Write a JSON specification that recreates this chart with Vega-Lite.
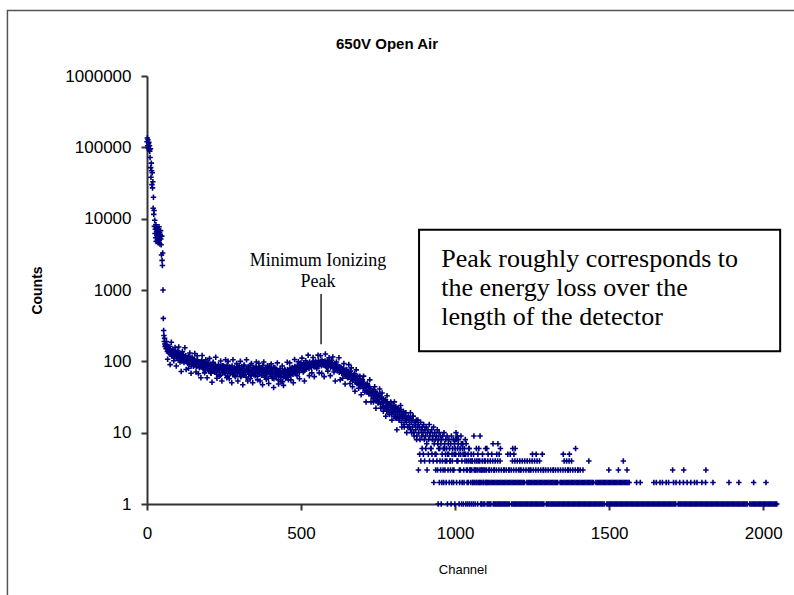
{
"$schema":"https://vega.github.io/schema/vega-lite/v6.json",
"width":631,"height":428,
"autosize":{"type":"none"},
"padding":{"left":147,"top":76,"right":16,"bottom":91},
"background":"white",
"config":{"view":{"stroke":null},"font":"Liberation Sans",
"axis":{"domainColor":"#333333","domainWidth":2,"tickColor":"#333333","tickWidth":2,"tickSize":6,"grid":false,"labelFont":"Liberation Sans","labelFontSize":17,"labelColor":"black","titleFont":"Liberation Sans","titleColor":"black","labelFlush":false},
"axisX":{"labelPadding":15,"titleFontSize":13,"titleFontWeight":"normal","titlePadding":22},
"axisY":{"labelPadding":10,"titleFontSize":14,"titleFontWeight":"bold","titlePadding":20}},
"layer":[
{"data":{"values":[{"x1":-453,"x2":2400,"y1":8300000,"y2":0.04}]},
"mark":{"type":"rect","fill":null,"fillOpacity":0,"stroke":"#555555","strokeWidth":1.5},
"encoding":{"x":{"field":"x1","type":"quantitative","title":"Channel","scale":{"domain":[0,2048],"nice":false,"zero":false}},"x2":{"field":"x2"},
"y":{"field":"y1","type":"quantitative","title":"Counts","scale":{"type":"log","domain":[1,1000000],"nice":false}},"y2":{"field":"y2"}}},
{"data":{"values":[{"channel":779,"counts":2810000,"label":"650V Open Air"}]},
"mark":{"type":"text","font":"Liberation Sans","fontSize":15,"fontWeight":"bold","align":"center","baseline":"middle","color":"black"},
"encoding":{"x":{"field":"channel","type":"quantitative","title":"Channel","scale":{"domain":[0,2048],"nice":false,"zero":false}},
"y":{"field":"counts","type":"quantitative","title":"Counts","scale":{"type":"log","domain":[1,1000000],"nice":false}},"text":{"field":"label"}}},
{"data":{"values":[
{"channel":0,"counts":120000},{"channel":1,"counts":135000},{"channel":2,"counts":105000},{"channel":3,"counts":128000},{"channel":4,"counts":98000},{"channel":5,"counts":112000},{"channel":6,"counts":118000},{"channel":7,"counts":92000},{"channel":8,"counts":105000},{"channel":9,"counts":88000},{"channel":10,"counts":72000},{"channel":11,"counts":95000},{"channel":12,"counts":52000},{"channel":13,"counts":38000},{"channel":14,"counts":60000},{"channel":15,"counts":47000},{"channel":16,"counts":30000},{"channel":17,"counts":44000},{"channel":18,"counts":27000},{"channel":19,"counts":33000},{"channel":20,"counts":14000},{"channel":21,"counts":20000},{"channel":22,"counts":11500},{"channel":23,"counts":13000},{"channel":24,"counts":7800},{"channel":25,"counts":9500},{"channel":26,"counts":6200},{"channel":27,"counts":7100},{"channel":28,"counts":5400},{"channel":29,"counts":8200},{"channel":30,"counts":4800},{"channel":31,"counts":6600},{"channel":32,"counts":5800},{"channel":33,"counts":7400},{"channel":34,"counts":5100},{"channel":35,"counts":6900},{"channel":36,"counts":4600},{"channel":37,"counts":6100},{"channel":38,"counts":5500},{"channel":39,"counts":7700},{"channel":40,"counts":5000},{"channel":41,"counts":6400},{"channel":42,"counts":4400},{"channel":43,"counts":5900},{"channel":44,"counts":6800},{"channel":45,"counts":5200},{"channel":46,"counts":4300},{"channel":47,"counts":3100},{"channel":48,"counts":5700},{"channel":49,"counts":2600},{"channel":50,"counts":2200},{"channel":51,"counts":3300},{"channel":52,"counts":1000},{"channel":53,"counts":400},{"channel":54,"counts":270},{"channel":55,"counts":230},{"channel":56,"counts":190},{"channel":57,"counts":210},{"channel":58,"counts":175},{"channel":59,"counts":160},{"channel":60,"counts":168},
{"channel":62,"counts":150},{"channel":64,"counts":172},{"channel":66,"counts":138},{"channel":68,"counts":155},{"channel":70,"counts":131},{"channel":72,"counts":148},{"channel":74,"counts":162},{"channel":76,"counts":126},{"channel":78,"counts":140},{"channel":80,"counts":119},{"channel":82,"counts":137},{"channel":84,"counts":146},{"channel":86,"counts":122},{"channel":88,"counts":131},{"channel":90,"counts":115},{"channel":92,"counts":139},{"channel":94,"counts":124},{"channel":96,"counts":110},{"channel":98,"counts":133},{"channel":100,"counts":118},
{"channel":102,"counts":127},{"channel":104,"counts":104},{"channel":106,"counts":121},{"channel":108,"counts":113},{"channel":110,"counts":130},{"channel":112,"counts":101},{"channel":114,"counts":118},{"channel":116,"counts":109},{"channel":118,"counts":124},{"channel":120,"counts":96},{"channel":122,"counts":115},{"channel":124,"counts":107},{"channel":126,"counts":120},{"channel":128,"counts":99},{"channel":130,"counts":112},{"channel":132,"counts":94},{"channel":134,"counts":118},{"channel":136,"counts":103},{"channel":138,"counts":91},{"channel":140,"counts":110},{"channel":142,"counts":99},{"channel":144,"counts":86},{"channel":146,"counts":114},{"channel":148,"counts":97},{"channel":150,"counts":104},{"channel":152,"counts":88},{"channel":154,"counts":107},{"channel":156,"counts":93},{"channel":158,"counts":101},{"channel":160,"counts":84},{"channel":162,"counts":98},{"channel":164,"counts":105},{"channel":166,"counts":89},{"channel":168,"counts":96},{"channel":170,"counts":81},{"channel":172,"counts":99},{"channel":174,"counts":92},{"channel":176,"counts":85},{"channel":178,"counts":103},{"channel":180,"counts":88},
{"channel":182,"counts":79},{"channel":184,"counts":94},{"channel":186,"counts":86},{"channel":188,"counts":98},{"channel":190,"counts":76},{"channel":192,"counts":90},{"channel":194,"counts":83},{"channel":196,"counts":95},{"channel":198,"counts":78},{"channel":200,"counts":87},
{"channel":202,"counts":72},{"channel":204,"counts":91},{"channel":206,"counts":80},{"channel":208,"counts":68},{"channel":210,"counts":86},{"channel":212,"counts":77},{"channel":214,"counts":93},{"channel":216,"counts":74},{"channel":218,"counts":82},{"channel":220,"counts":70},{"channel":222,"counts":88},{"channel":224,"counts":79},{"channel":226,"counts":66},{"channel":228,"counts":84},{"channel":230,"counts":75},{"channel":232,"counts":90},{"channel":234,"counts":71},{"channel":236,"counts":80},{"channel":238,"counts":64},{"channel":240,"counts":83},{"channel":242,"counts":76},{"channel":244,"counts":87},{"channel":246,"counts":69},{"channel":248,"counts":78},{"channel":250,"counts":73},
{"channel":252,"counts":85},{"channel":254,"counts":67},{"channel":256,"counts":79},{"channel":258,"counts":74},{"channel":260,"counts":88},{"channel":262,"counts":62},{"channel":264,"counts":77},{"channel":266,"counts":71},{"channel":268,"counts":83},{"channel":270,"counts":68},{"channel":272,"counts":80},{"channel":274,"counts":73},{"channel":276,"counts":86},{"channel":278,"counts":65},{"channel":280,"counts":76},{"channel":282,"counts":70},{"channel":284,"counts":82},{"channel":286,"counts":63},{"channel":288,"counts":78},{"channel":290,"counts":72},{"channel":292,"counts":84},{"channel":294,"counts":67},{"channel":296,"counts":75},{"channel":298,"counts":80},{"channel":300,"counts":69},
{"channel":302,"counts":77},{"channel":304,"counts":61},{"channel":306,"counts":74},{"channel":308,"counts":83},{"channel":310,"counts":70},{"channel":312,"counts":78},{"channel":314,"counts":64},{"channel":316,"counts":86},{"channel":318,"counts":72},{"channel":320,"counts":75},{"channel":322,"counts":60},{"channel":324,"counts":79},{"channel":326,"counts":71},{"channel":328,"counts":84},{"channel":330,"counts":66},{"channel":332,"counts":76},{"channel":334,"counts":73},{"channel":336,"counts":88},{"channel":338,"counts":63},{"channel":340,"counts":77},{"channel":342,"counts":70},{"channel":344,"counts":81},{"channel":346,"counts":65},{"channel":348,"counts":74},{"channel":350,"counts":79},
{"channel":352,"counts":68},{"channel":354,"counts":85},{"channel":356,"counts":72},{"channel":358,"counts":62},{"channel":360,"counts":78},{"channel":362,"counts":71},{"channel":364,"counts":83},{"channel":366,"counts":66},{"channel":368,"counts":75},{"channel":370,"counts":80},{"channel":372,"counts":64},{"channel":374,"counts":73},{"channel":376,"counts":87},{"channel":378,"counts":69},{"channel":380,"counts":76},{"channel":382,"counts":60},{"channel":384,"counts":74},{"channel":386,"counts":81},{"channel":388,"counts":67},{"channel":390,"counts":72},{"channel":392,"counts":78},{"channel":394,"counts":58},{"channel":396,"counts":70},{"channel":398,"counts":84},{"channel":400,"counts":66},
{"channel":402,"counts":73},{"channel":404,"counts":62},{"channel":406,"counts":77},{"channel":408,"counts":69},{"channel":410,"counts":81},{"channel":412,"counts":57},{"channel":414,"counts":71},{"channel":416,"counts":65},{"channel":418,"counts":78},{"channel":420,"counts":61},{"channel":422,"counts":74},{"channel":424,"counts":68},{"channel":426,"counts":55},{"channel":428,"counts":72},{"channel":430,"counts":64},{"channel":432,"counts":79},{"channel":434,"counts":59},{"channel":436,"counts":70},{"channel":438,"counts":66},{"channel":440,"counts":52},{"channel":442,"counts":73},{"channel":444,"counts":61},{"channel":446,"counts":68},{"channel":448,"counts":75},{"channel":450,"counts":58},
{"channel":452,"counts":70},{"channel":454,"counts":64},{"channel":456,"counts":77},{"channel":458,"counts":60},{"channel":460,"counts":72},{"channel":462,"counts":67},{"channel":464,"counts":80},{"channel":466,"counts":63},{"channel":468,"counts":74},{"channel":470,"counts":69},{"channel":472,"counts":82},{"channel":474,"counts":66},{"channel":476,"counts":76},{"channel":478,"counts":71},{"channel":480,"counts":85},{"channel":482,"counts":68},{"channel":484,"counts":78},{"channel":486,"counts":73},{"channel":488,"counts":88},{"channel":490,"counts":75},{"channel":492,"counts":81},{"channel":494,"counts":70},{"channel":496,"counts":86},{"channel":498,"counts":79},{"channel":500,"counts":91},
{"channel":502,"counts":76},{"channel":504,"counts":84},{"channel":506,"counts":80},{"channel":508,"counts":93},{"channel":510,"counts":74},{"channel":512,"counts":87},{"channel":514,"counts":82},{"channel":516,"counts":96},{"channel":518,"counts":78},{"channel":520,"counts":89},{"channel":522,"counts":84},{"channel":524,"counts":92},{"channel":526,"counts":79},{"channel":528,"counts":98},{"channel":530,"counts":86},{"channel":532,"counts":90},{"channel":534,"counts":82},{"channel":536,"counts":95},{"channel":538,"counts":88},{"channel":540,"counts":100},{"channel":542,"counts":84},{"channel":544,"counts":93},{"channel":546,"counts":89},{"channel":548,"counts":97},{"channel":550,"counts":85},
{"channel":552,"counts":94},{"channel":554,"counts":88},{"channel":556,"counts":102},{"channel":558,"counts":86},{"channel":560,"counts":96},{"channel":562,"counts":91},{"channel":564,"counts":99},{"channel":566,"counts":87},{"channel":568,"counts":104},{"channel":570,"counts":93},{"channel":572,"counts":89},{"channel":574,"counts":98},{"channel":576,"counts":92},{"channel":578,"counts":101},{"channel":580,"counts":86},{"channel":582,"counts":95},{"channel":584,"counts":90},{"channel":586,"counts":103},{"channel":588,"counts":84},{"channel":590,"counts":94},{"channel":592,"counts":88},{"channel":594,"counts":97},{"channel":596,"counts":82},{"channel":598,"counts":91},{"channel":600,"counts":86},
{"channel":602,"counts":95},{"channel":604,"counts":80},{"channel":606,"counts":89},{"channel":608,"counts":84},{"channel":610,"counts":93},{"channel":612,"counts":77},{"channel":614,"counts":87},{"channel":616,"counts":82},{"channel":618,"counts":74},{"channel":620,"counts":86},{"channel":622,"counts":79},{"channel":624,"counts":70},{"channel":626,"counts":84},{"channel":628,"counts":75},{"channel":630,"counts":81},{"channel":632,"counts":68},{"channel":634,"counts":77},{"channel":636,"counts":72},{"channel":638,"counts":80},{"channel":640,"counts":65},{"channel":642,"counts":74},{"channel":644,"counts":69},{"channel":646,"counts":62},{"channel":648,"counts":76},{"channel":650,"counts":66},
{"channel":652,"counts":71},{"channel":654,"counts":60},{"channel":656,"counts":68},{"channel":658,"counts":63},{"channel":660,"counts":73},{"channel":662,"counts":56},{"channel":664,"counts":66},{"channel":666,"counts":61},{"channel":668,"counts":54},{"channel":670,"counts":64},{"channel":672,"counts":58},{"channel":674,"counts":67},{"channel":676,"counts":51},{"channel":678,"counts":60},{"channel":680,"counts":55},{"channel":682,"counts":49},{"channel":684,"counts":62},{"channel":686,"counts":53},{"channel":688,"counts":47},{"channel":690,"counts":57},{"channel":692,"counts":50},{"channel":694,"counts":44},{"channel":696,"counts":54},{"channel":698,"counts":48},{"channel":700,"counts":52},
{"channel":702,"counts":42},{"channel":704,"counts":49},{"channel":706,"counts":45},{"channel":708,"counts":39},{"channel":710,"counts":47},{"channel":712,"counts":43},{"channel":714,"counts":37},{"channel":716,"counts":46},{"channel":718,"counts":40},{"channel":720,"counts":35},{"channel":722,"counts":44},{"channel":724,"counts":38},{"channel":726,"counts":41},{"channel":728,"counts":33},{"channel":730,"counts":39},{"channel":732,"counts":36},{"channel":734,"counts":30},{"channel":736,"counts":40},{"channel":738,"counts":34},{"channel":740,"counts":31},{"channel":742,"counts":37},{"channel":744,"counts":28},{"channel":746,"counts":35},{"channel":748,"counts":32},{"channel":750,"counts":26},
{"channel":752,"counts":33},{"channel":754,"counts":29},{"channel":756,"counts":35},{"channel":758,"counts":25},{"channel":760,"counts":31},{"channel":762,"counts":27},{"channel":764,"counts":23},{"channel":766,"counts":30},{"channel":768,"counts":26},{"channel":770,"counts":28},{"channel":772,"counts":22},{"channel":774,"counts":29},{"channel":776,"counts":24},{"channel":778,"counts":20},{"channel":780,"counts":27},{"channel":782,"counts":23},{"channel":784,"counts":25},{"channel":786,"counts":19},{"channel":788,"counts":24},{"channel":790,"counts":21},{"channel":792,"counts":26},{"channel":794,"counts":18},{"channel":796,"counts":22},{"channel":798,"counts":20},{"channel":800,"counts":24},
{"channel":802,"counts":17},{"channel":804,"counts":21},{"channel":806,"counts":19},{"channel":808,"counts":23},{"channel":810,"counts":16},{"channel":812,"counts":20},{"channel":814,"counts":18},{"channel":816,"counts":22},{"channel":818,"counts":15},{"channel":820,"counts":19},{"channel":822,"counts":17},{"channel":824,"counts":21},{"channel":826,"counts":14},{"channel":828,"counts":18},{"channel":830,"counts":16},{"channel":832,"counts":20},{"channel":834,"counts":13},{"channel":836,"counts":17},{"channel":838,"counts":15},{"channel":840,"counts":19},{"channel":842,"counts":14},{"channel":844,"counts":16},{"channel":846,"counts":12},{"channel":848,"counts":17},{"channel":850,"counts":15},
{"channel":852,"counts":13},{"channel":854,"counts":16},{"channel":856,"counts":11},{"channel":858,"counts":14},{"channel":860,"counts":15},{"channel":862,"counts":12},{"channel":864,"counts":17},{"channel":866,"counts":10},{"channel":868,"counts":13},{"channel":870,"counts":14},{"channel":872,"counts":11},{"channel":874,"counts":15},{"channel":876,"counts":9},{"channel":878,"counts":12},{"channel":880,"counts":13},{"channel":882,"counts":10},{"channel":884,"counts":12},{"channel":886,"counts":8},{"channel":888,"counts":14},{"channel":890,"counts":11},{"channel":892,"counts":9},{"channel":894,"counts":12},{"channel":896,"counts":10},{"channel":898,"counts":13},{"channel":900,"counts":8},
{"channel":902,"counts":11},{"channel":904,"counts":9},{"channel":906,"counts":12},{"channel":908,"counts":7},{"channel":910,"counts":10},{"channel":912,"counts":11},{"channel":914,"counts":8},{"channel":916,"counts":13},{"channel":918,"counts":9},{"channel":920,"counts":10},{"channel":922,"counts":6},{"channel":924,"counts":11},{"channel":926,"counts":8},{"channel":928,"counts":9},{"channel":930,"counts":12},{"channel":932,"counts":7},{"channel":934,"counts":10},{"channel":936,"counts":8},{"channel":938,"counts":5},{"channel":940,"counts":9},{"channel":942,"counts":11},{"channel":944,"counts":7},{"channel":946,"counts":8},{"channel":948,"counts":10},{"channel":950,"counts":6},
{"channel":952,"counts":9},{"channel":954,"counts":7},{"channel":956,"counts":8},{"channel":958,"counts":5},{"channel":960,"counts":9},{"channel":962,"counts":6},{"channel":964,"counts":10},{"channel":966,"counts":7},{"channel":968,"counts":4},{"channel":970,"counts":8},{"channel":972,"counts":6},{"channel":974,"counts":9},{"channel":976,"counts":5},{"channel":978,"counts":7},{"channel":980,"counts":8},{"channel":982,"counts":6},{"channel":984,"counts":4},{"channel":986,"counts":7},{"channel":988,"counts":9},{"channel":990,"counts":5},{"channel":992,"counts":6},{"channel":994,"counts":8},{"channel":996,"counts":3},{"channel":998,"counts":7},{"channel":1000,"counts":6},
{"channel":1002,"counts":5},{"channel":1004,"counts":8},{"channel":1006,"counts":4},{"channel":1008,"counts":6},{"channel":1010,"counts":7},{"channel":1012,"counts":5},{"channel":1014,"counts":3},{"channel":1016,"counts":6},{"channel":1018,"counts":5},{"channel":1020,"counts":7},{"channel":1022,"counts":4},{"channel":1024,"counts":6},{"channel":1026,"counts":5},{"channel":1028,"counts":3},{"channel":1030,"counts":6},{"channel":1032,"counts":4},{"channel":1034,"counts":5},{"channel":1036,"counts":7},{"channel":1038,"counts":4},{"channel":1040,"counts":3},{"channel":1042,"counts":5},{"channel":1044,"counts":4},{"channel":1046,"counts":6},{"channel":1048,"counts":3},{"channel":1050,"counts":4},
{"channel":1052,"counts":5},{"channel":1054,"counts":3},{"channel":1056,"counts":4},{"channel":1058,"counts":2},{"channel":1060,"counts":5},{"channel":1062,"counts":3},{"channel":1064,"counts":4},{"channel":1066,"counts":3},{"channel":1068,"counts":2},{"channel":1070,"counts":4},{"channel":1072,"counts":3},{"channel":1074,"counts":5},{"channel":1076,"counts":2},{"channel":1078,"counts":3},{"channel":1080,"counts":4},{"channel":1082,"counts":2},{"channel":1084,"counts":3},{"channel":1086,"counts":1},{"channel":1088,"counts":4},{"channel":1090,"counts":3},{"channel":1092,"counts":2},{"channel":1094,"counts":3},{"channel":1096,"counts":1},{"channel":1098,"counts":4},{"channel":1100,"counts":2},
{"channel":63,"counts":190},{"channel":67,"counts":107},{"channel":71,"counts":151},{"channel":75,"counts":90},{"channel":79,"counts":185},{"channel":83,"counts":118},{"channel":87,"counts":102},{"channel":91,"counts":156},{"channel":95,"counts":86},{"channel":99,"counts":140},{"channel":103,"counts":159},{"channel":107,"counts":98},{"channel":111,"counts":72},{"channel":115,"counts":136},{"channel":119,"counts":107},{"channel":123,"counts":155},{"channel":127,"counts":77},{"channel":131,"counts":109},{"channel":135,"counts":80},{"channel":139,"counts":131},{"channel":143,"counts":68},{"channel":147,"counts":110},{"channel":151,"counts":85},{"channel":155,"counts":129},{"channel":159,"counts":71},
{"channel":163,"counts":120},{"channel":167,"counts":67},{"channel":171,"counts":97},{"channel":175,"counts":59},{"channel":179,"counts":121},{"channel":183,"counts":78},{"channel":187,"counts":69},{"channel":191,"counts":105},{"channel":195,"counts":59},{"channel":199,"counts":96},{"channel":203,"counts":110},{"channel":207,"counts":69},{"channel":211,"counts":51},{"channel":215,"counts":97},{"channel":219,"counts":77},{"channel":223,"counts":114},{"channel":227,"counts":58},{"channel":231,"counts":82},{"channel":235,"counts":62},{"channel":239,"counts":101},{"channel":243,"counts":53},{"channel":247,"counts":87},{"channel":251,"counts":69},{"channel":255,"counts":105},{"channel":259,"counts":59},
{"channel":263,"counts":100},{"channel":267,"counts":57},{"channel":271,"counts":82},{"channel":275,"counts":50},{"channel":279,"counts":105},{"channel":283,"counts":68},{"channel":287,"counts":61},{"channel":291,"counts":93},{"channel":295,"counts":53},{"channel":299,"counts":87},{"channel":303,"counts":100},{"channel":307,"counts":63},{"channel":311,"counts":47},{"channel":315,"counts":89},{"channel":319,"counts":71},{"channel":323,"counts":105},{"channel":327,"counts":53},{"channel":331,"counts":76},{"channel":335,"counts":57},{"channel":339,"counts":93},{"channel":343,"counts":50},{"channel":347,"counts":82},{"channel":351,"counts":63},{"channel":355,"counts":98},{"channel":359,"counts":55},
{"channel":363,"counts":94},{"channel":367,"counts":53},{"channel":371,"counts":77},{"channel":375,"counts":47},{"channel":379,"counts":98},{"channel":383,"counts":63},{"channel":387,"counts":56},{"channel":391,"counts":87},{"channel":395,"counts":49},{"channel":399,"counts":80},{"channel":403,"counts":92},{"channel":407,"counts":58},{"channel":411,"counts":43},{"channel":415,"counts":82},{"channel":419,"counts":65},{"channel":423,"counts":95},{"channel":427,"counts":48},{"channel":431,"counts":70},{"channel":435,"counts":52},{"channel":439,"counts":86},{"channel":443,"counts":46},{"channel":447,"counts":77},{"channel":451,"counts":62},{"channel":455,"counts":97},{"channel":459,"counts":55},
{"channel":463,"counts":95},{"channel":467,"counts":55},{"channel":471,"counts":81},{"channel":475,"counts":50},{"channel":479,"counts":106},{"channel":483,"counts":70},{"channel":487,"counts":63},{"channel":491,"counts":99},{"channel":495,"counts":57},{"channel":499,"counts":95},{"channel":503,"counts":111},{"channel":507,"counts":71},{"channel":511,"counts":53},{"channel":515,"counts":102},{"channel":519,"counts":83},{"channel":523,"counts":122},{"channel":527,"counts":63},{"channel":531,"counts":90},{"channel":535,"counts":69},{"channel":539,"counts":113},{"channel":543,"counts":61},{"channel":547,"counts":100},{"channel":551,"counts":79},{"channel":555,"counts":122},{"channel":559,"counts":69},
{"channel":563,"counts":120},{"channel":567,"counts":68},{"channel":571,"counts":99},{"channel":575,"counts":61},{"channel":579,"counts":127},{"channel":583,"counts":82},{"channel":587,"counts":73},{"channel":591,"counts":112},{"channel":595,"counts":63},{"channel":599,"counts":103},{"channel":603,"counts":115},{"channel":607,"counts":71},{"channel":611,"counts":53},{"channel":615,"counts":98},{"channel":619,"counts":78},{"channel":623,"counts":112},{"channel":627,"counts":55},{"channel":631,"counts":79},{"channel":635,"counts":58},{"channel":639,"counts":93},{"channel":643,"counts":48},{"channel":647,"counts":77},{"channel":651,"counts":59},{"channel":655,"counts":90},{"channel":659,"counts":49},
{"channel":663,"counts":81},{"channel":667,"counts":44},{"channel":671,"counts":64},{"channel":675,"counts":38},{"channel":679,"counts":76},{"channel":683,"counts":49},{"channel":687,"counts":42},{"channel":691,"counts":62},{"channel":695,"counts":34},{"channel":699,"counts":55},{"channel":703,"counts":62},{"channel":707,"counts":37},{"channel":711,"counts":27},{"channel":715,"counts":49},{"channel":719,"counts":38},{"channel":723,"counts":55},{"channel":727,"counts":27},{"channel":731,"counts":37},{"channel":735,"counts":27},{"channel":739,"counts":44},{"channel":743,"counts":22},{"channel":747,"counts":36},{"channel":751,"counts":27},{"channel":755,"counts":41},{"channel":759,"counts":22},
{"channel":763,"counts":36},{"channel":767,"counts":20},{"channel":771,"counts":28},{"channel":775,"counts":17},{"channel":779,"counts":33},{"channel":783,"counts":21},{"channel":787,"counts":18},{"channel":791,"counts":27},{"channel":795,"counts":15},{"channel":799,"counts":23},{"channel":803,"counts":27},{"channel":807,"counts":16},{"channel":811,"counts":11},{"channel":815,"counts":22},{"channel":819,"counts":16},{"channel":823,"counts":24},{"channel":827,"counts":12},{"channel":831,"counts":17},{"channel":835,"counts":12},{"channel":839,"counts":19},{"channel":843,"counts":10},{"channel":847,"counts":16},{"channel":851,"counts":12},{"channel":855,"counts":19},{"channel":859,"counts":10},
{"channel":863,"counts":17},{"channel":867,"counts":9},{"channel":871,"counts":13},{"channel":875,"counts":8},{"channel":879,"counts":15},
{"channel":881,"counts":3},{"channel":885,"counts":5},{"channel":889,"counts":4},{"channel":893,"counts":6},{"channel":897,"counts":5},{"channel":901,"counts":4},{"channel":905,"counts":6},{"channel":909,"counts":3},{"channel":913,"counts":5},{"channel":917,"counts":4},{"channel":921,"counts":6},{"channel":925,"counts":5},{"channel":929,"counts":4},{"channel":931,"counts":2},{"channel":935,"counts":5},{"channel":937,"counts":3},{"channel":941,"counts":4},{"channel":943,"counts":3},{"channel":945,"counts":1},{"channel":947,"counts":6},{"channel":949,"counts":2},{"channel":951,"counts":4},{"channel":953,"counts":3},{"channel":955,"counts":1},{"channel":957,"counts":2},{"channel":959,"counts":4},{"channel":961,"counts":3},{"channel":963,"counts":2},{"channel":965,"counts":6},{"channel":967,"counts":3},{"channel":969,"counts":5},{"channel":971,"counts":2},{"channel":973,"counts":4},{"channel":975,"counts":1},{"channel":977,"counts":3},{"channel":979,"counts":5},{"channel":981,"counts":2},{"channel":983,"counts":4},{"channel":985,"counts":3},{"channel":987,"counts":1},{"channel":989,"counts":2},{"channel":991,"counts":4},{"channel":993,"counts":3},{"channel":995,"counts":2},{"channel":997,"counts":5},{"channel":999,"counts":1},
{"channel":1001,"counts":8},{"channel":1003,"counts":10},{"channel":1005,"counts":2},{"channel":1007,"counts":9},{"channel":1009,"counts":4},{"channel":1011,"counts":8},{"channel":1013,"counts":1},{"channel":1015,"counts":2},{"channel":1017,"counts":3},{"channel":1019,"counts":9},{"channel":1021,"counts":1},{"channel":1023,"counts":2},{"channel":1025,"counts":7},{"channel":1027,"counts":1},{"channel":1029,"counts":2},{"channel":1031,"counts":5},{"channel":1033,"counts":8},{"channel":1035,"counts":1},{"channel":1037,"counts":3},{"channel":1039,"counts":2},{"channel":1041,"counts":1},{"channel":1043,"counts":2},{"channel":1045,"counts":6},{"channel":1047,"counts":1},{"channel":1049,"counts":3},{"channel":1051,"counts":2},{"channel":1053,"counts":1},{"channel":1055,"counts":4},{"channel":1057,"counts":2},{"channel":1059,"counts":1},{"channel":1061,"counts":9},{"channel":1063,"counts":2},{"channel":1065,"counts":1},{"channel":1067,"counts":3},{"channel":1069,"counts":6},{"channel":1071,"counts":2},{"channel":1073,"counts":1},{"channel":1075,"counts":4},{"channel":1077,"counts":6},{"channel":1079,"counts":2},{"channel":1081,"counts":9},{"channel":1083,"counts":1},{"channel":1085,"counts":3},{"channel":1087,"counts":2},{"channel":1089,"counts":5},{"channel":1091,"counts":1},{"channel":1093,"counts":2},{"channel":1095,"counts":4},{"channel":1097,"counts":3},{"channel":1099,"counts":6},
{"channel":1104,"counts":1},{"channel":1108,"counts":1},{"channel":1112,"counts":1},{"channel":1116,"counts":1},{"channel":1124,"counts":1},{"channel":1128,"counts":1},{"channel":1132,"counts":1},{"channel":1136,"counts":1},{"channel":1140,"counts":1},{"channel":1144,"counts":1},{"channel":1148,"counts":1},{"channel":1152,"counts":1},{"channel":1156,"counts":1},{"channel":1160,"counts":1},{"channel":1164,"counts":1},{"channel":1168,"counts":1},{"channel":1172,"counts":1},{"channel":1176,"counts":1},{"channel":1184,"counts":1},{"channel":1188,"counts":1},{"channel":1192,"counts":1},{"channel":1196,"counts":1},
{"channel":1200,"counts":1},{"channel":1204,"counts":1},{"channel":1208,"counts":1},{"channel":1212,"counts":1},{"channel":1216,"counts":1},{"channel":1220,"counts":1},{"channel":1224,"counts":1},{"channel":1228,"counts":1},{"channel":1232,"counts":1},{"channel":1236,"counts":1},{"channel":1240,"counts":1},{"channel":1244,"counts":1},{"channel":1248,"counts":1},{"channel":1252,"counts":1},{"channel":1256,"counts":1},{"channel":1260,"counts":1},{"channel":1264,"counts":1},{"channel":1268,"counts":1},{"channel":1272,"counts":1},{"channel":1276,"counts":1},{"channel":1280,"counts":1},{"channel":1284,"counts":1},{"channel":1288,"counts":1},{"channel":1296,"counts":1},
{"channel":1300,"counts":1},{"channel":1304,"counts":1},{"channel":1308,"counts":1},{"channel":1312,"counts":1},{"channel":1316,"counts":1},{"channel":1320,"counts":1},{"channel":1324,"counts":1},{"channel":1328,"counts":1},{"channel":1332,"counts":1},{"channel":1336,"counts":1},{"channel":1340,"counts":1},{"channel":1344,"counts":1},{"channel":1348,"counts":1},{"channel":1352,"counts":1},{"channel":1356,"counts":1},{"channel":1360,"counts":1},{"channel":1364,"counts":1},{"channel":1368,"counts":1},{"channel":1372,"counts":1},{"channel":1376,"counts":1},{"channel":1380,"counts":1},{"channel":1384,"counts":1},{"channel":1388,"counts":1},{"channel":1392,"counts":1},{"channel":1396,"counts":1},
{"channel":1400,"counts":1},{"channel":1404,"counts":1},{"channel":1408,"counts":1},{"channel":1412,"counts":1},{"channel":1416,"counts":1},{"channel":1420,"counts":1},{"channel":1424,"counts":1},{"channel":1428,"counts":1},{"channel":1432,"counts":1},{"channel":1436,"counts":1},{"channel":1440,"counts":1},{"channel":1444,"counts":1},{"channel":1448,"counts":1},{"channel":1452,"counts":1},{"channel":1456,"counts":1},{"channel":1460,"counts":1},{"channel":1464,"counts":1},{"channel":1468,"counts":1},{"channel":1472,"counts":1},{"channel":1476,"counts":1},{"channel":1480,"counts":1},{"channel":1484,"counts":1},{"channel":1492,"counts":1},{"channel":1496,"counts":1},
{"channel":1500,"counts":1},{"channel":1504,"counts":1},{"channel":1508,"counts":1},{"channel":1512,"counts":1},{"channel":1516,"counts":1},{"channel":1520,"counts":1},{"channel":1524,"counts":1},{"channel":1528,"counts":1},{"channel":1532,"counts":1},{"channel":1536,"counts":1},{"channel":1540,"counts":1},{"channel":1544,"counts":1},{"channel":1548,"counts":1},{"channel":1552,"counts":1},{"channel":1556,"counts":1},{"channel":1560,"counts":1},{"channel":1564,"counts":1},{"channel":1568,"counts":1},{"channel":1572,"counts":1},{"channel":1576,"counts":1},{"channel":1580,"counts":1},{"channel":1584,"counts":1},{"channel":1588,"counts":1},{"channel":1592,"counts":1},{"channel":1596,"counts":1},
{"channel":1600,"counts":1},{"channel":1604,"counts":1},{"channel":1608,"counts":1},{"channel":1612,"counts":1},{"channel":1616,"counts":1},{"channel":1620,"counts":1},{"channel":1624,"counts":1},{"channel":1628,"counts":1},{"channel":1632,"counts":1},{"channel":1636,"counts":1},{"channel":1640,"counts":1},{"channel":1644,"counts":1},{"channel":1648,"counts":1},{"channel":1652,"counts":1},{"channel":1656,"counts":1},{"channel":1660,"counts":1},{"channel":1664,"counts":1},{"channel":1668,"counts":1},{"channel":1672,"counts":1},{"channel":1676,"counts":1},{"channel":1680,"counts":1},{"channel":1684,"counts":1},{"channel":1688,"counts":1},{"channel":1692,"counts":1},{"channel":1696,"counts":1},
{"channel":1700,"counts":1},{"channel":1704,"counts":1},{"channel":1708,"counts":1},{"channel":1712,"counts":1},{"channel":1716,"counts":1},{"channel":1724,"counts":1},{"channel":1728,"counts":1},{"channel":1732,"counts":1},{"channel":1736,"counts":1},{"channel":1740,"counts":1},{"channel":1744,"counts":1},{"channel":1748,"counts":1},{"channel":1752,"counts":1},{"channel":1756,"counts":1},{"channel":1760,"counts":1},{"channel":1764,"counts":1},{"channel":1768,"counts":1},{"channel":1772,"counts":1},{"channel":1776,"counts":1},{"channel":1780,"counts":1},{"channel":1784,"counts":1},{"channel":1788,"counts":1},{"channel":1792,"counts":1},{"channel":1796,"counts":1},
{"channel":1800,"counts":1},{"channel":1804,"counts":1},{"channel":1808,"counts":1},{"channel":1812,"counts":1},{"channel":1816,"counts":1},{"channel":1820,"counts":1},{"channel":1824,"counts":1},{"channel":1828,"counts":1},{"channel":1832,"counts":1},{"channel":1836,"counts":1},{"channel":1840,"counts":1},{"channel":1844,"counts":1},{"channel":1848,"counts":1},{"channel":1852,"counts":1},{"channel":1856,"counts":1},{"channel":1860,"counts":1},{"channel":1864,"counts":1},{"channel":1868,"counts":1},{"channel":1872,"counts":1},{"channel":1876,"counts":1},{"channel":1880,"counts":1},{"channel":1884,"counts":1},{"channel":1888,"counts":1},{"channel":1892,"counts":1},{"channel":1896,"counts":1},
{"channel":1900,"counts":1},{"channel":1904,"counts":1},{"channel":1908,"counts":1},{"channel":1912,"counts":1},{"channel":1916,"counts":1},{"channel":1920,"counts":1},{"channel":1924,"counts":1},{"channel":1928,"counts":1},{"channel":1932,"counts":1},{"channel":1936,"counts":1},{"channel":1940,"counts":1},{"channel":1944,"counts":1},{"channel":1948,"counts":1},{"channel":1956,"counts":1},{"channel":1960,"counts":1},{"channel":1964,"counts":1},{"channel":1968,"counts":1},{"channel":1972,"counts":1},{"channel":1976,"counts":1},{"channel":1980,"counts":1},{"channel":1984,"counts":1},{"channel":1988,"counts":1},{"channel":1992,"counts":1},{"channel":1996,"counts":1},
{"channel":2000,"counts":1},{"channel":2004,"counts":1},{"channel":2008,"counts":1},{"channel":2012,"counts":1},{"channel":2016,"counts":1},{"channel":2020,"counts":1},{"channel":2024,"counts":1},{"channel":2028,"counts":1},{"channel":2032,"counts":1},{"channel":2036,"counts":1},{"channel":2040,"counts":1},{"channel":2044,"counts":1},
{"channel":1101,"counts":2},{"channel":1105,"counts":2},{"channel":1109,"counts":2},{"channel":1113,"counts":2},{"channel":1117,"counts":2},{"channel":1121,"counts":2},{"channel":1125,"counts":2},{"channel":1129,"counts":2},{"channel":1133,"counts":2},{"channel":1137,"counts":2},{"channel":1141,"counts":2},{"channel":1145,"counts":2},{"channel":1149,"counts":2},{"channel":1153,"counts":2},{"channel":1157,"counts":2},{"channel":1161,"counts":2},{"channel":1165,"counts":2},{"channel":1169,"counts":2},{"channel":1173,"counts":2},{"channel":1177,"counts":2},{"channel":1181,"counts":2},{"channel":1185,"counts":2},{"channel":1189,"counts":2},{"channel":1193,"counts":2},{"channel":1197,"counts":2},
{"channel":1201,"counts":2},{"channel":1205,"counts":2},{"channel":1209,"counts":2},{"channel":1213,"counts":2},{"channel":1217,"counts":2},{"channel":1221,"counts":2},{"channel":1225,"counts":2},{"channel":1233,"counts":2},{"channel":1237,"counts":2},{"channel":1241,"counts":2},{"channel":1245,"counts":2},{"channel":1249,"counts":2},{"channel":1253,"counts":2},{"channel":1257,"counts":2},{"channel":1261,"counts":2},{"channel":1265,"counts":2},{"channel":1269,"counts":2},{"channel":1273,"counts":2},{"channel":1277,"counts":2},{"channel":1281,"counts":2},{"channel":1285,"counts":2},{"channel":1289,"counts":2},{"channel":1293,"counts":2},{"channel":1297,"counts":2},
{"channel":1301,"counts":2},{"channel":1305,"counts":2},{"channel":1309,"counts":2},{"channel":1313,"counts":2},{"channel":1317,"counts":2},{"channel":1321,"counts":2},{"channel":1325,"counts":2},{"channel":1329,"counts":2},{"channel":1333,"counts":2},{"channel":1341,"counts":2},{"channel":1345,"counts":2},{"channel":1349,"counts":2},{"channel":1353,"counts":2},{"channel":1357,"counts":2},{"channel":1361,"counts":2},{"channel":1365,"counts":2},{"channel":1369,"counts":2},{"channel":1373,"counts":2},{"channel":1377,"counts":2},{"channel":1381,"counts":2},{"channel":1385,"counts":2},{"channel":1389,"counts":2},{"channel":1393,"counts":2},{"channel":1397,"counts":2},
{"channel":1401,"counts":2},{"channel":1405,"counts":2},{"channel":1409,"counts":2},{"channel":1413,"counts":2},{"channel":1417,"counts":2},{"channel":1421,"counts":2},{"channel":1425,"counts":2},{"channel":1429,"counts":2},{"channel":1433,"counts":2},{"channel":1437,"counts":2},{"channel":1441,"counts":2},{"channel":1445,"counts":2},{"channel":1449,"counts":2},{"channel":1457,"counts":2},{"channel":1461,"counts":2},{"channel":1465,"counts":2},{"channel":1469,"counts":2},{"channel":1473,"counts":2},{"channel":1477,"counts":2},{"channel":1481,"counts":2},{"channel":1485,"counts":2},{"channel":1489,"counts":2},{"channel":1493,"counts":2},{"channel":1497,"counts":2},
{"channel":1501,"counts":2},{"channel":1505,"counts":2},{"channel":1509,"counts":2},{"channel":1513,"counts":2},{"channel":1517,"counts":2},{"channel":1521,"counts":2},{"channel":1525,"counts":2},{"channel":1529,"counts":2},{"channel":1533,"counts":2},{"channel":1537,"counts":2},{"channel":1541,"counts":2},{"channel":1545,"counts":2},{"channel":1549,"counts":2},{"channel":1553,"counts":2},{"channel":1557,"counts":2},{"channel":1561,"counts":2},{"channel":1565,"counts":2},
{"channel":1589,"counts":2},{"channel":1601,"counts":2},{"channel":1645,"counts":2},{"channel":1653,"counts":2},{"channel":1665,"counts":2},{"channel":1673,"counts":2},{"channel":1685,"counts":2},{"channel":1693,"counts":2},{"channel":1709,"counts":2},{"channel":1717,"counts":2},{"channel":1729,"counts":2},{"channel":1741,"counts":2},{"channel":1753,"counts":2},{"channel":1765,"counts":2},{"channel":1777,"counts":2},{"channel":1785,"counts":2},{"channel":1801,"counts":2},{"channel":1813,"counts":2},{"channel":1837,"counts":2},{"channel":1889,"counts":2},{"channel":1921,"counts":2},{"channel":1969,"counts":2},{"channel":2009,"counts":2},
{"channel":1102,"counts":3},{"channel":1110,"counts":3},{"channel":1118,"counts":3},{"channel":1126,"counts":3},{"channel":1134,"counts":3},{"channel":1142,"counts":3},{"channel":1150,"counts":3},{"channel":1158,"counts":3},{"channel":1166,"counts":3},{"channel":1174,"counts":3},{"channel":1182,"counts":3},{"channel":1190,"counts":3},{"channel":1198,"counts":3},{"channel":1206,"counts":3},{"channel":1214,"counts":3},{"channel":1222,"counts":3},{"channel":1230,"counts":3},{"channel":1238,"counts":3},{"channel":1246,"counts":3},{"channel":1254,"counts":3},{"channel":1262,"counts":3},{"channel":1270,"counts":3},{"channel":1278,"counts":3},{"channel":1286,"counts":3},{"channel":1294,"counts":3},{"channel":1302,"counts":3},{"channel":1310,"counts":3},{"channel":1318,"counts":3},{"channel":1326,"counts":3},{"channel":1334,"counts":3},{"channel":1342,"counts":3},{"channel":1350,"counts":3},{"channel":1358,"counts":3},{"channel":1366,"counts":3},{"channel":1374,"counts":3},{"channel":1382,"counts":3},{"channel":1390,"counts":3},{"channel":1398,"counts":3},{"channel":1406,"counts":3},
{"channel":1111,"counts":3},{"channel":1127,"counts":3},{"channel":1159,"counts":3},{"channel":1175,"counts":3},{"channel":1211,"counts":3},{"channel":1243,"counts":3},{"channel":1287,"counts":3},{"channel":1319,"counts":3},{"channel":1367,"counts":3},{"channel":1399,"counts":3},{"channel":1415,"counts":3},{"channel":1499,"counts":3},{"channel":1530,"counts":3},{"channel":1558,"counts":3},{"channel":1706,"counts":3},{"channel":1742,"counts":3},{"channel":1814,"counts":3},
{"channel":1106,"counts":4},{"channel":1114,"counts":4},{"channel":1122,"counts":4},{"channel":1130,"counts":4},{"channel":1138,"counts":4},{"channel":1146,"counts":4},{"channel":1186,"counts":4},{"channel":1194,"counts":4},{"channel":1202,"counts":4},{"channel":1210,"counts":4},{"channel":1218,"counts":4},{"channel":1226,"counts":4},{"channel":1234,"counts":4},{"channel":1242,"counts":4},{"channel":1250,"counts":4},{"channel":1258,"counts":4},{"channel":1266,"counts":4},{"channel":1274,"counts":4},{"channel":1354,"counts":4},{"channel":1362,"counts":4},{"channel":1370,"counts":4},{"channel":1378,"counts":4},{"channel":1434,"counts":4},{"channel":1546,"counts":4},
{"channel":1107,"counts":5},{"channel":1119,"counts":5},{"channel":1135,"counts":5},{"channel":1143,"counts":5},{"channel":1171,"counts":5},{"channel":1179,"counts":5},{"channel":1191,"counts":5},{"channel":1251,"counts":5},{"channel":1263,"counts":5},{"channel":1283,"counts":5},{"channel":1351,"counts":5},{"channel":1371,"counts":5},
{"channel":1103,"counts":6},{"channel":1147,"counts":6},{"channel":1187,"counts":6},{"channel":1195,"counts":6},{"channel":1391,"counts":6},{"channel":1123,"counts":7},{"channel":1139,"counts":7}
]},
"mark":{"type":"point","shape":"M-1,0L1,0M0,-1L0,1","filled":false,"stroke":"#000080","strokeWidth":1.6,"size":30,"opacity":1},
"encoding":{"x":{"field":"channel","type":"quantitative","title":"Channel","scale":{"domain":[0,2048],"nice":false,"zero":false},"axis":{"values":[0,500,1000,1500,2000],"format":"d"}},
"y":{"field":"counts","type":"quantitative","title":"Counts","scale":{"type":"log","domain":[1,1000000],"nice":false},"axis":{"values":[1,10,100,1000,10000,100000,1000000],"format":"d"}}}},
{"data":{"values":[{"channel":565,"top":880,"bottom":173}]},
"mark":{"type":"rule","color":"black","strokeWidth":1.3},
"encoding":{"x":{"field":"channel","type":"quantitative","title":"Channel","scale":{"domain":[0,2048],"nice":false,"zero":false}},
"y":{"field":"top","type":"quantitative","title":"Counts","scale":{"type":"log","domain":[1,1000000],"nice":false}},"y2":{"field":"bottom"}}},
{"data":{"values":[{"channel":555,"counts":2560,"label":"Minimum Ionizing"},{"channel":555,"counts":1300,"label":"Peak"}]},
"mark":{"type":"text","font":"Liberation Serif","fontSize":18,"align":"center","baseline":"middle","color":"black"},
"encoding":{"x":{"field":"channel","type":"quantitative","title":"Channel","scale":{"domain":[0,2048],"nice":false,"zero":false}},
"y":{"field":"counts","type":"quantitative","title":"Counts","scale":{"type":"log","domain":[1,1000000],"nice":false}},"text":{"field":"label"}}},
{"data":{"values":[{"x1":883,"x2":2055,"y1":7000,"y2":138}]},
"mark":{"type":"rect","fill":"white","stroke":"black","strokeWidth":2},
"encoding":{"x":{"field":"x1","type":"quantitative","title":"Channel","scale":{"domain":[0,2048],"nice":false,"zero":false}},"x2":{"field":"x2"},
"y":{"field":"y1","type":"quantitative","title":"Counts","scale":{"type":"log","domain":[1,1000000],"nice":false}},"y2":{"field":"y2"}}},
{"data":{"values":[{"channel":955,"counts":2730,"label":"Peak roughly corresponds to"},{"channel":955,"counts":1070,"label":"the energy loss over the"},{"channel":955,"counts":420,"label":"length of the detector"}]},
"mark":{"type":"text","font":"Liberation Serif","fontSize":26,"align":"left","baseline":"middle","color":"black"},
"encoding":{"x":{"field":"channel","type":"quantitative","title":"Channel","scale":{"domain":[0,2048],"nice":false,"zero":false}},
"y":{"field":"counts","type":"quantitative","title":"Counts","scale":{"type":"log","domain":[1,1000000],"nice":false}},"text":{"field":"label"}}}
]
}
